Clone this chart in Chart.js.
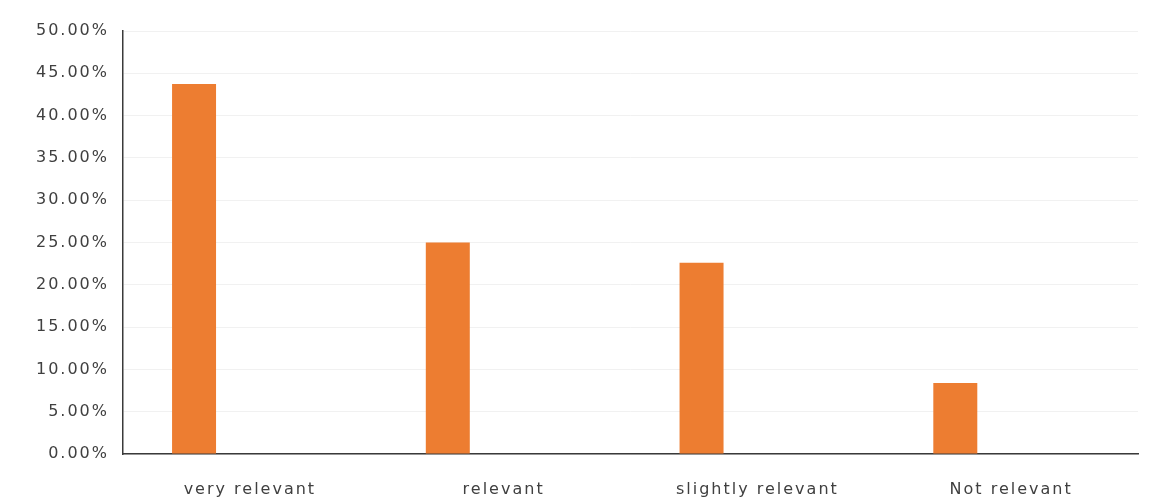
<!DOCTYPE html>
<html>
<head>
<meta charset="utf-8">
<script src="https://cdn.jsdelivr.net/npm/chart.js@4"></script>
<style>
  html, body { margin: 0; padding: 0; background: #ffffff; }
  #wrap { width: 1151px; height: 500px; position: relative; }
</style>
</head>
<body>
<div id="wrap"><canvas id="relevance"></canvas></div>
<script>
const categories = ['very relevant', 'relevant', 'slightly relevant', 'Not relevant'];
const shares = [43.75, 25.0, 22.6, 8.4];
// second series is empty, it only reserves the right half of each group
const emptySeries = [null, null, null, null];
const yTicks = [0, 5, 10, 15, 20, 25, 30, 35, 40, 45, 50];

const ORANGE = '#ED7D31';
const TEXT = '#404040';
const FONT = { family: '"DejaVu Sans", Verdana, sans-serif', size: 16 };

// wider tracking on all canvas text
const spacing = {
  id: 'spacing',
  beforeUpdate: chart => { chart.ctx.letterSpacing = '2px'; },
  beforeDraw: chart => { chart.ctx.letterSpacing = '2px'; }
};

new Chart(document.getElementById('relevance'), {
  type: 'bar',
  plugins: [spacing],
  data: {
    labels: categories,
    datasets: [
      { data: shares, backgroundColor: ORANGE, borderWidth: 0, categoryPercentage: 0.88, barPercentage: 0.394 },
      { data: emptySeries, backgroundColor: ORANGE, borderWidth: 0, categoryPercentage: 0.88, barPercentage: 0.394 }
    ]
  },
  options: {
    responsive: true, maintainAspectRatio: false, animation: false,
    layout: { padding: { top: 31, right: 13, bottom: 0, left: 0 } },
    plugins: { legend: { display: false }, tooltip: { enabled: false } },
    scales: {
      x: {
        grid: { display: false },
        border: { display: true, color: '#3a3a3a', width: 1.5 },
        ticks: { font: FONT, color: TEXT, padding: 18, maxRotation: 0 },
        afterFit: s => { s.height = 46; }
      },
      y: {
        min: 0, max: 50,
        afterBuildTicks: s => { s.ticks = yTicks.map(v => ({ value: v })); },
        grid: { color: '#f1f1f1', lineWidth: 1, drawTicks: false },
        border: { display: true, color: '#3a3a3a', width: 1.5 },
        ticks: { font: FONT, color: TEXT, padding: 14, callback: v => v.toFixed(2) + '%' },
        afterFit: s => { s.width = 123; }
      }
    }
  }
});
</script>
</body>
</html>
